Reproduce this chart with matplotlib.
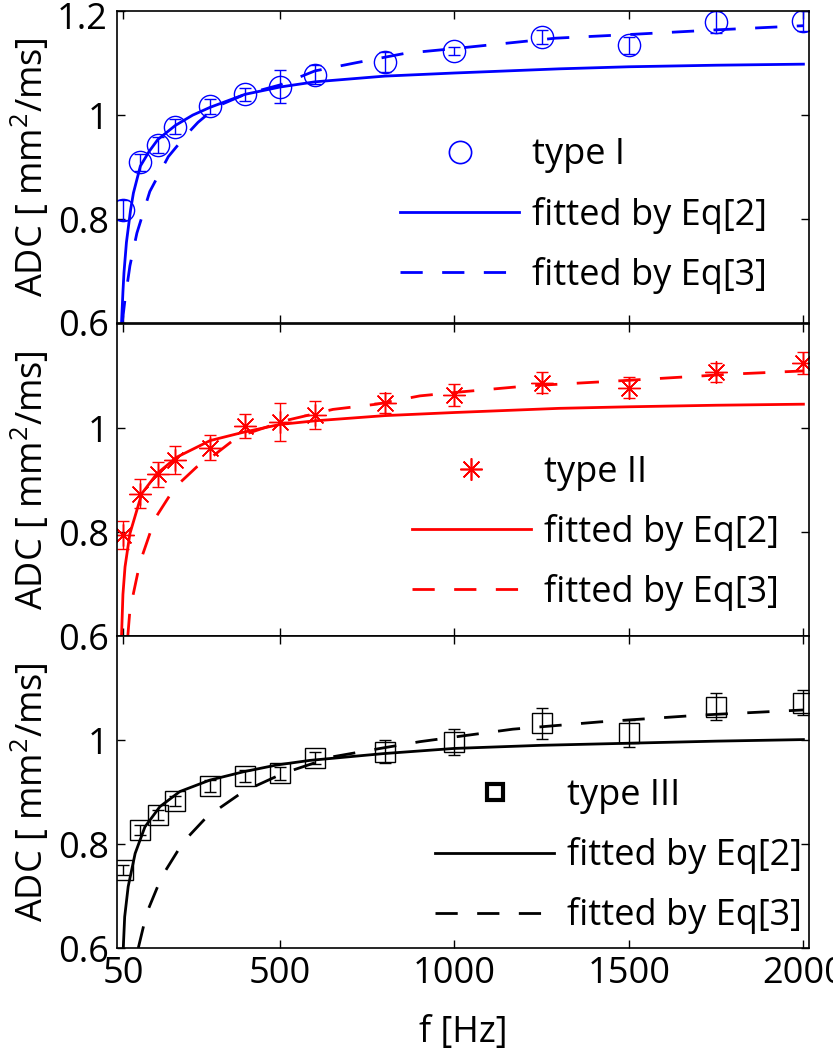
import matplotlib
matplotlib.use("Agg")
import matplotlib.pyplot as plt
from matplotlib.lines import Line2D

plt.rcParams['font.family'] = ['Open Sans', 'DejaVu Sans']
plt.rcParams['mathtext.fontset'] = 'custom'
plt.rcParams['mathtext.rm'] = 'Open Sans'
plt.rcParams['font.size'] = 26

# measured ADC values at each frequency
freq = [50, 100, 150, 200, 300, 400, 500, 600, 800, 1000, 1250, 1500, 1750, 2000]

adc1 = [0.818, 0.909, 0.942, 0.978, 1.017, 1.040, 1.055, 1.078, 1.102, 1.123, 1.150, 1.134, 1.179, 1.181]
err1 = [0.019, 0.017, 0.015, 0.015, 0.014, 0.013, 0.031, 0.018, 0.019, 0.008, 0.014, 0.017, 0.021, 0.019]
adc2 = [0.794, 0.874, 0.911, 0.939, 0.962, 1.004, 1.012, 1.025, 1.048, 1.064, 1.087, 1.078, 1.107, 1.126]
err2 = [0.027, 0.028, 0.024, 0.027, 0.024, 0.024, 0.036, 0.027, 0.019, 0.021, 0.020, 0.021, 0.019, 0.021]
adc3 = [0.750, 0.827, 0.856, 0.883, 0.912, 0.931, 0.936, 0.966, 0.978, 0.997, 1.032, 1.013, 1.064, 1.072]
err3 = [0.010, 0.010, 0.010, 0.010, 0.012, 0.012, 0.012, 0.012, 0.022, 0.025, 0.030, 0.026, 0.026, 0.024]

# fitted curves
fit2_x1 = [46, 50, 53, 60, 72, 80, 100, 125, 150, 200, 250, 300, 400, 500, 600, 800, 1000, 1300, 1500, 1750, 2000]
fit2_y1 = [0.600, 0.660, 0.697, 0.755, 0.818, 0.850, 0.902, 0.930, 0.953, 0.980, 1.000, 1.015, 1.040, 1.054, 1.064, 1.075, 1.081, 1.089, 1.093, 1.096, 1.098]
fit3_x1 = [48, 55, 70, 90, 127, 180, 233, 265, 320, 400, 500, 600, 720, 860, 1000, 1290, 1500, 1750, 2000]
fit3_y1 = [0.600, 0.640, 0.710, 0.773, 0.853, 0.920, 0.963, 0.986, 1.017, 1.040, 1.058, 1.085, 1.101, 1.119, 1.128, 1.148, 1.155, 1.164, 1.172]

fit2_x2 = [46, 50, 56, 70, 104, 147, 204, 300, 395, 500, 600, 800, 1000, 1300, 1500, 1750, 2000]
fit2_y2 = [0.600, 0.680, 0.733, 0.797, 0.874, 0.912, 0.944, 0.976, 0.992, 1.007, 1.014, 1.024, 1.030, 1.038, 1.041, 1.044, 1.046]
fit3_x2 = [64, 70, 99, 142, 199, 261, 290, 365, 404, 519, 652, 777, 901, 1024, 1207, 1500, 1798, 2000]
fit3_y2 = [0.600, 0.650, 0.742, 0.826, 0.886, 0.925, 0.937, 0.976, 0.989, 1.015, 1.036, 1.046, 1.062, 1.070, 1.081, 1.092, 1.104, 1.110]

fit2_x3 = [51, 55, 65, 85, 113, 156, 213, 299, 395, 490, 586, 796, 1000, 1250, 1500, 1750, 2000]
fit2_y3 = [0.600, 0.660, 0.718, 0.782, 0.833, 0.872, 0.901, 0.923, 0.939, 0.952, 0.961, 0.974, 0.984, 0.990, 0.994, 0.998, 1.001]
fit3_x3 = [94, 118, 161, 223, 290, 395, 509, 652, 796, 901, 1167, 1416, 1703, 2000]
fit3_y3 = [0.600, 0.667, 0.737, 0.804, 0.852, 0.901, 0.936, 0.968, 0.985, 0.997, 1.021, 1.035, 1.048, 1.058]

panels = [
    ("type I", "b", "o", 16, adc1, err1, fit2_x1, fit2_y1, fit3_x1, fit3_y1),
    ("type II", "r", (8, 2, 0), 16, adc2, err2, fit2_x2, fit2_y2, fit3_x2, fit3_y2),
    ("type III", "k", "s", 15, adc3, err3, fit2_x3, fit2_y3, fit3_x3, fit3_y3),
]
# legend marker look (size, edge width) per panel
leg_marker = [(16, 1.2), (16, 1.2), (11, 3)]
# legend anchor (upper-left corner) for each panel, axes coords
leg_anchor = [(0.409, 0.595), (0.426, 0.581), (0.46, 0.545)]

dash = (8, 7)

fig = plt.figure(figsize=(8.33, 10.5), dpi=100)
left, width, height = 117 / 833, 692 / 833, 0.297
bottoms = [1 - 323 / 1050, 1 - 636 / 1050, 1 - 948 / 1050]

for i, (name, c, mk, ms, adc, err, x2, y2, x3, y3) in enumerate(panels):
    ax = fig.add_axes([left, bottoms[i], width, height])
    ax.plot(x2, y2, "-", color=c, lw=2)
    ax.plot(x3, y3, "--", color=c, lw=2, dashes=dash)
    ax.errorbar(freq, adc, yerr=err, fmt="none", ecolor=c, elinewidth=1, capsize=4.5, capthick=1)
    ax.plot(freq, adc, ls="none", marker=mk, ms=ms, mfc="none", mec=c, mew=1.0)

    ax.set_xlim(33, 2016)
    ax.set_ylim(0.6, 1.2)
    ax.set_xticks([50, 500, 1000, 1500, 2000])
    if i == 0:
        ax.set_yticks([0.6, 0.8, 1.0, 1.2])
        ax.set_yticklabels(["0.6", "0.8", "1", ""])
        # top label drawn by hand, nudged down so it stays inside the figure
        ax.annotate("1.2", xy=(0, 1), xycoords="axes fraction", xytext=(-6.5, -3),
                    textcoords="offset points", ha="right", va="center_baseline")
    else:
        ax.set_yticks([0.6, 0.8, 1.0])
        ax.set_yticklabels(["0.6", "0.8", "1"])
    if i < 2:
        ax.set_xticklabels([])
    else:
        ax.set_xticklabels(["50", "500", "1000", "1500", "2000"])
        ax.set_xlabel("f [Hz]", labelpad=16)
    ax.tick_params(direction="in", top=True, right=True, length=6, width=1, pad=6)
    for s in ax.spines.values():
        s.set_linewidth(1.2)
    ax.set_ylabel("ADC [ mm$^{\\mathrm{2}}$/ms]", labelpad=4)

    lms, lmew = leg_marker[i]
    handles = [
        Line2D([], [], ls="none", marker=mk, ms=lms, mfc="none", mec=c, mew=lmew),
        Line2D([], [], ls="-", color=c, lw=2),
        Line2D([], [], ls="--", color=c, lw=2, dashes=dash),
    ]
    labels = [name, "fitted by Eq[2]", "fitted by Eq[3]"]
    ax.legend(handles, labels, loc="upper left", bbox_to_anchor=leg_anchor[i],
              frameon=False, handlelength=3.3, handletextpad=0.35,
              labelspacing=0.64, borderpad=0, borderaxespad=0)

plt.savefig("out.png")
